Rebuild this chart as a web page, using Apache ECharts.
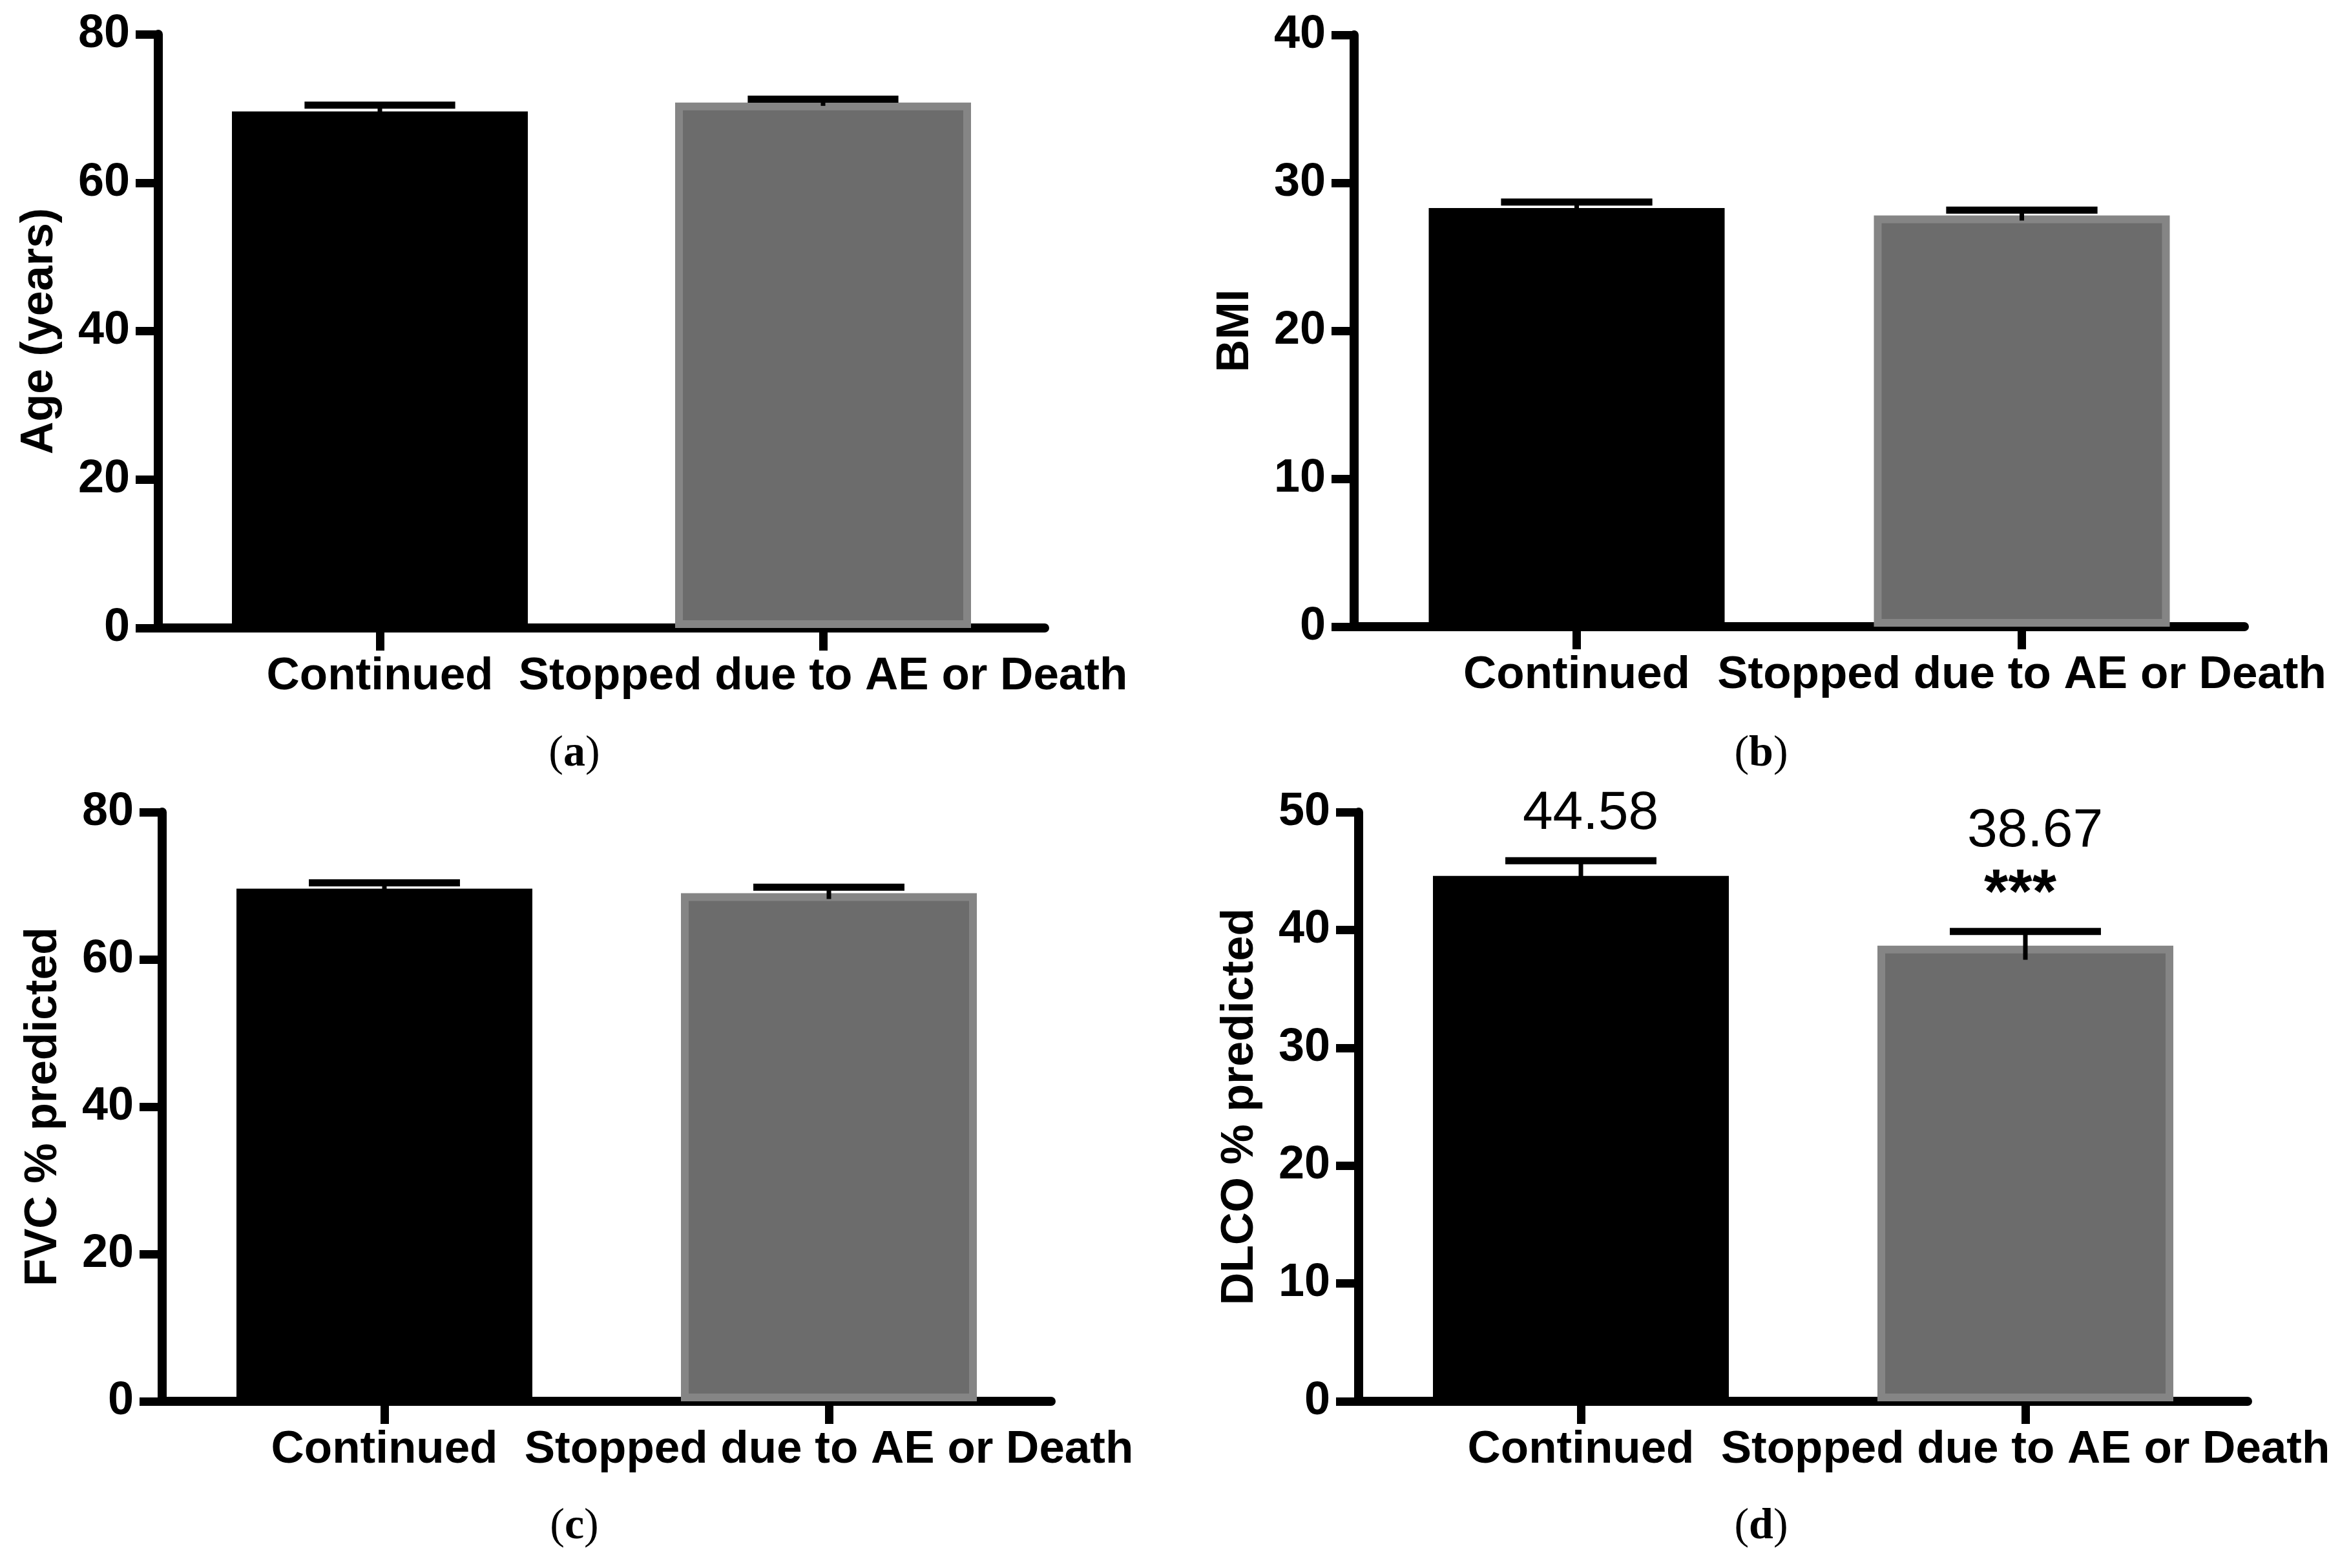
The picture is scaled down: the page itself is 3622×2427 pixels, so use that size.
<!DOCTYPE html>
<html>
<head>
<meta charset="utf-8">
<script src="https://cdn.jsdelivr.net/npm/echarts@6/dist/echarts.min.js"></script>
<style>
  html, body { margin: 0; padding: 0; background: #fff; }
  #chart { width: 3622px; height: 2427px; }
</style>
</head>
<body>
<div id="chart"></div>
<script>
// groups on the x axis
const groups = ['Continued', 'Stopped due to AE or Death'];

// mean and SEM for each panel
const ageMean = [69.6, 70.8];
const ageSem = [0.85, 0.45];
const bmiMean = [28.3, 27.8];
const bmiSem = [0.4, 0.35];
const fvcMean = [69.6, 69.0];
const fvcSem = [0.8, 0.8];
const dlcoMean = [44.58, 38.67];
const dlcoSem = [1.3, 1.2];

// annotations of panel (d)
const dlcoValueLabels = ['44.58', '38.67'];
const dlcoStars = ['', '***'];

// axes
const axisTitles = ['Age (years)', 'BMI', 'FVC % predicted', 'DLCO % predicted'];
const yMax = [80, 40, 80, 50];
const yStep = [20, 10, 20, 10];
const panelTags = ['a', 'b', 'c', 'd'];

const means = [ageMean, bmiMean, fvcMean, dlcoMean];
const sems = [ageSem, bmiSem, fvcSem, dlcoSem];

const barColors = ['#000000', '#6c6c6c'];
const barBorders = ['#000000', '#858585'];

const grids = [
  { left: 245, right: 2005, top: 53, bottom: 1455 },
  { left: 2096, right: 148, top: 54, bottom: 1457 },
  { left: 251, right: 1995, top: 1257, bottom: 258 },
  { left: 2103, right: 143, top: 1257, bottom: 258 }
];
const captionPos = [[889, 1167], [2726, 1167], [889, 2363], [2726, 2363]];

const AX_W = 14;
const TICK_W = 13;
const SANS = '"Liberation Sans", Arial, sans-serif';
const NARROW = '"Liberation Sans Narrow", "Arial Narrow", "Liberation Sans", sans-serif';

function errorBar(params, api) {
  const i = api.value(0);
  const m = api.value(1);
  const s = api.value(2);
  const top = api.coord([i, m + s]);
  const bot = api.coord([i, m - s]);
  const half = api.size([1, 0])[0] * 0.17;
  return {
    type: 'group',
    children: [
      { type: 'line', shape: { x1: top[0], y1: top[1], x2: bot[0], y2: bot[1] },
        style: { stroke: '#000', lineWidth: 7 } },
      { type: 'line', shape: { x1: top[0] - half, y1: top[1], x2: top[0] + half, y2: top[1] },
        style: { stroke: '#000', lineWidth: 11 } }
    ]
  };
}

function dlcoNotes(params, api) {
  const i = api.value(0);
  const cap = api.coord([i, api.value(1) + api.value(2)]);
  const children = [];
  let labelY = cap[1] - 72;
  if (dlcoStars[i]) {
    children.push({
      type: 'text',
      style: { text: dlcoStars[i], x: cap[0] - 8, y: cap[1] - 56, align: 'center', verticalAlign: 'middle',
        fontSize: 96, fontWeight: 'bold', fontFamily: SANS, fill: '#000' }
    });
    labelY = cap[1] - 155;
  }
  children.push({
    type: 'text',
    style: { text: dlcoValueLabels[i], x: cap[0] + 15, y: labelY, align: 'center', verticalAlign: 'middle',
      fontSize: 84, fontFamily: SANS, fill: '#000' }
  });
  return { type: 'group', children: children };
}

const xAxes = [], yAxes = [], series = [];
for (let p = 0; p < 4; p++) {
  xAxes.push({
    type: 'category', gridIndex: p, data: groups,
    axisLine: { show: true, lineStyle: { color: '#000', width: AX_W } },
    axisTick: { show: true, alignWithLabel: true, length: 35, lineStyle: { color: '#000', width: TICK_W } },
    axisLabel: { color: '#000', fontSize: 71, fontWeight: 'bold', fontFamily: SANS, margin: 40, interval: 0 }
  });
  yAxes.push({
    type: 'value', gridIndex: p, min: 0, max: yMax[p], interval: yStep[p],
    name: axisTitles[p], nameLocation: 'middle', nameGap: 148,
    nameTextStyle: { color: '#000', fontSize: 70, fontWeight: 'bold', fontFamily: SANS },
    axisLine: { show: true, lineStyle: { color: '#000', width: AX_W } },
    axisTick: { show: true, length: 35, lineStyle: { color: '#000', width: TICK_W } },
    axisLabel: { color: '#000', fontSize: 72, fontWeight: 'bold', fontFamily: NARROW, margin: 44 },
    splitLine: { show: false }
  });
  series.push({
    type: 'bar', xAxisIndex: p, yAxisIndex: p, barWidth: 458,
    data: means[p].map((v, i) => ({
      value: v,
      itemStyle: { color: barColors[i], borderColor: barBorders[i], borderWidth: 12 }
    })),
    z: 2
  });
  series.push({
    type: 'custom', xAxisIndex: p, yAxisIndex: p, renderItem: errorBar,
    data: means[p].map((v, i) => [i, v, sems[p][i]]),
    encode: { x: 0, y: 1 }, z: 5
  });
}
series.push({
  type: 'custom', xAxisIndex: 3, yAxisIndex: 3, renderItem: dlcoNotes,
  data: dlcoMean.map((v, i) => [i, v, dlcoSem[i]]),
  encode: { x: 0, y: 1 }, z: 6
});

const chart = echarts.init(document.getElementById('chart'));
chart.setOption({
  backgroundColor: '#fff',
  animation: false,
  grid: grids,
  xAxis: xAxes,
  yAxis: yAxes,
  series: series,
  graphic: captionPos.map((pos, p) => ({
    type: 'text', x: pos[0], y: pos[1],
    style: {
      text: '{p|(}{b|' + panelTags[p] + '}{p|)}',
      align: 'center', verticalAlign: 'middle',
      rich: {
        p: { fontSize: 68, fontFamily: '"Liberation Serif", serif', fontWeight: 'normal', fill: '#000' },
        b: { fontSize: 68, fontFamily: '"Liberation Serif", serif', fontWeight: 'bold', fill: '#000' }
      }
    }
  }))
});
</script>
</body>
</html>
